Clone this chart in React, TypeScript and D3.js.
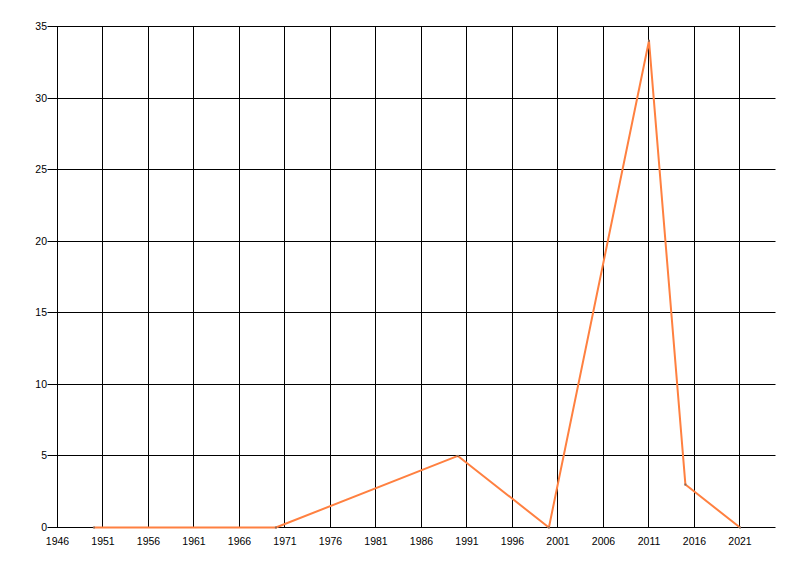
import React from "react";
import * as d3 from "d3";

const years = [1950, 1970, 1990, 2000, 2011, 2015, 2021];
const counts = [0, 0, 5, 0, 34, 3, 0];
const xTicks = [1946, 1951, 1956, 1961, 1966, 1971, 1976, 1981, 1986, 1991, 1996, 2001, 2006, 2011, 2016, 2021];
const yTicks = [0, 5, 10, 15, 20, 25, 30, 35];

const W = 800;
const H = 576;
const left = 57.5;
const right = 775.5;
const top = 26.5;
const bottom = 527.5;

export default function App() {
  const x = d3.scaleLinear().domain([1946, 1946 + (right - left) / 9.1]).range([left, right]);
  const y = d3.scaleLinear().domain([0, 35]).range([bottom, top]);
  const px = (v: number) => Math.round(v - 0.5) + 0.5;
  const data = years.map((yr, i) => ({ yr, v: counts[i] }));
  const line = d3
    .line<{ yr: number; v: number }>()
    .x((d) => x(d.yr))
    .y((d) => y(d.v));
  const font = "'Liberation Sans', Arial, sans-serif";
  return (
    <svg width={W} height={H} style={{ position: "absolute", left: 0, top: 0, background: "#fff" }}>
      <rect x={0} y={0} width={W} height={H} fill="#fff" />
      {yTicks.map((t) => (
        <g key={"y" + t}>
          <line x1={left - 10} x2={right} y1={px(y(t))} y2={px(y(t))} stroke="#000" strokeWidth={1} />
          <text x={left - 10.5} y={px(y(t))} dy="0.35em" textAnchor="end" fontSize={10.5} fontFamily={font} fill="#000">
            {t}
          </text>
        </g>
      ))}
      {xTicks.map((t) => (
        <g key={"x" + t}>
          <line x1={px(x(t))} x2={px(x(t))} y1={top} y2={bottom} stroke="#000" strokeWidth={1} />
          <text x={x(t)} y={bottom + 17.5} textAnchor="middle" fontSize={10.5} fontFamily={font} fill="#000">
            {t}
          </text>
        </g>
      ))}
      <path d={line(data) || ""} fill="none" stroke="#FF8040" strokeWidth={2} strokeLinejoin="round" />
      {data.map((d) => (
        <rect key={"p" + d.yr} x={x(d.yr) - 1} y={y(d.v) - 1} width={2} height={2} fill="#8a6a5a" />
      ))}
    </svg>
  );
}
